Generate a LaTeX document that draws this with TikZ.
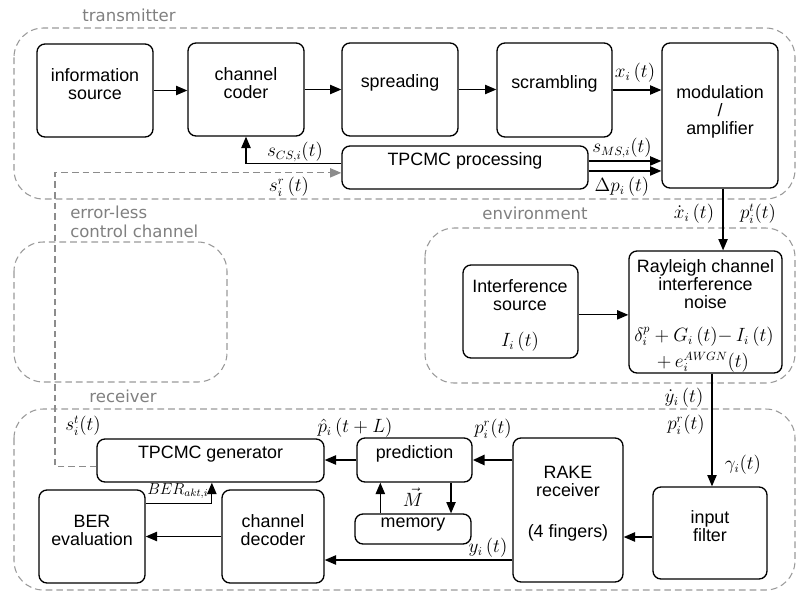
\documentclass[tikz,border=0pt]{standalone}
\usepackage{fontspec}
\setmainfont{Liberation Sans}
\newfontfamily\MyGrayFam{DejaVu Sans}
\usetikzlibrary{fit,arrows.meta}
\definecolor{regiongray}{HTML}{9A9A9A}
\definecolor{ctrlgray}{HTML}{8C8C8C}
\definecolor{labelgray}{HTML}{808080}
\newcommand\MyBoxFont{\fontsize{13.4}{13.6}\selectfont}
\newcommand\MyGrayFont{\MyGrayFam\fontsize{12.4}{14.5}\selectfont}
\newcommand\MyMathFont{\fontsize{13.5}{16}\selectfont}
\newcommand\MySmallMathFont{\fontsize{11.5}{14}\selectfont}
\begin{document}
\begin{tikzpicture}[x=0.75pt,y=-0.75pt,
  blk/.style={draw, rounded corners=6pt, line width=1pt, inner sep=0pt, align=center, font=\MyBoxFont},
  arr/.style={line width=0.95pt, -{Triangle[length=8.5pt,width=7pt]}},
  region/.style={draw=regiongray, dash pattern=on 5pt off 3pt, line width=0.8pt, rounded corners=22pt},
  ctrl/.style={draw=ctrlgray, dash pattern=on 5pt off 3pt, line width=0.9pt, -{Triangle[length=8.5pt,width=7pt]}},
  glabel/.style={text=labelgray, font=\MyGrayFont, inner sep=0pt},
  mlab/.style={font=\MyMathFont, inner sep=0pt},
  btxt/.style={font=\MyBoxFont, align=center, inner sep=0pt}]
\useasboundingbox (0,0) rectangle (796,594);

% regions
\draw[region] (14,28) rectangle (795,199);
\draw[region] (425,228) rectangle (795,383);
\draw[region] (14,242) rectangle (227,382);
\draw[region] (14,409) rectangle (795,590);
\node[glabel] (ltx) at (129,15) {transmitter};
\node[glabel] (lenv) at (535,213) {environment};
\node[glabel, anchor=west, align=left] (lerr) at (70,222) {error-less\\control channel};
\node[glabel] (lrx) at (123,396) {receiver};

% transmitter boxes
\node[blk, fit={(37,44) (153,137)}] (src) {information\\source};
\node[blk, fit={(188,43) (304,136)}] (coder) {channel\\coder};
\node[blk, fit={(342,43) (458,136)}] (spread) {spreading};
\node[blk, fit={(497,43) (612,137)}] (scram) {scrambling};
\node[blk, fit={(662,43) (778,188)}] (mod) {};
\node[btxt] (modt) at (720,112) {modulation\\/\\amplifier};
\node[blk, fit={(342,146) (588,189)}] (proc) {TPCMC processing};

% environment boxes
\node[blk, fit={(463,265) (578,358)}] (intsrc) {};
\node[btxt] (intt) at (520,295) {Interference\\source};
\node[mlab] (intI) at (520,342) {$I_i\,(t)$};
\node[blk, fit={(629,251) (782,373)}] (ray) {};
\node[btxt] (rayt) at (705.5,284) {Rayleigh channel\\interference\\noise};
\node[mlab] (rayf1) at (704,337) {$\delta_i^p + G_i\,(t){-}\,I_i\,(t)$};
\node[mlab] (rayf2) at (703,362) {$+\,e_i^{AWGN}(t)$};

% receiver boxes
\node[blk, fit={(653,487) (767,579)}] (filter) {input\\filter};
\node[blk, fit={(513,438) (623,582)}] (rake) {RAKE\\receiver\\[17.5pt](4 fingers)};
\node[blk, fit={(357,438) (472,482)}] (pred) {prediction};
\node[blk, fit={(355,514) (471,544)}] (mem) {memory};
\node[blk, fit={(97,439) (324,482)}] (gen) {TPCMC generator};
\node[blk, fit={(39,490) (145,583)}] (ber) {BER\\evaluation};
\node[blk, fit={(222,490) (324,583)}] (dec) {channel\\decoder};

% transmitter connectors
\draw[arr] (src.east) -- (src.east -| coder.west);
\draw[arr] (coder.east) -- (coder.east -| spread.west);
\draw[arr] (spread.east) -- (spread.east -| scram.west);
\draw[arr] (scram.east) -- (scram.east -| mod.west);
\draw[arr] ([yshift=3pt]proc.west) -| (coder.south);
\draw[arr] ([yshift=4.9pt]proc.east) -- ([yshift=4.9pt]proc.east -| mod.west);
\draw[arr] ([yshift=-2.6pt]proc.east) -- ([yshift=-2.6pt]proc.east -| mod.west);

% control channel
\coordinate (cc) at (55,300);
\draw[ctrl] ([yshift=-4.5pt]gen.west) -| (cc) |- ([yshift=-4pt]proc.west);

% environment connectors
\draw[arr] ([xshift=2.3pt]mod.south) -- ([xshift=2.3pt]mod.south |- ray.north);
\draw[arr] ([yshift=-2.5pt]intsrc.east) -- ([yshift=-2.5pt]intsrc.east -| ray.west);
\draw[arr] ([xshift=1.5pt]ray.south -| filter.north) -- ([xshift=1.5pt]filter.north);

% receiver connectors
\draw[arr] ([yshift=-3pt]filter.west) -- ([yshift=-3pt]filter.west -| rake.east);
\draw[line width=2.2pt, -{Triangle[length=9pt,width=7.5pt]}] (pred.east -| rake.west) -- (pred.east);
\draw[arr] ([xshift=27.4pt]pred.south) -- ([xshift=27.4pt]pred.south |- mem.north);
\draw[arr] ([xshift=-24.5pt]mem.north) -- ([xshift=-24.5pt]mem.north |- pred.south);
\draw[arr] (pred.west) -- (pred.west -| gen.east);
\draw[arr] ([yshift=-37.5pt]rake.west) -- ([yshift=-37.5pt]rake.west -| dec.east);
\draw[arr] (dec.west) -- (dec.west -| ber.east);
\draw[arr] ([yshift=25pt]ber.east) -| ([xshift=1pt]gen.south);

% math labels
\node[mlab] (lx) at (635,73) {$x_i\,(t)$};
\node[mlab] (lscs) at (295,152) {$s_{CS,i}(t)$};
\node[mlab] (lsr) at (289,187) {$s_i^{r}\,(t)$};
\node[mlab] (lsms) at (622,148) {$s_{MS,i}(t)$};
\node[mlab] (ldp) at (622,187) {$\Delta p_i\,(t)$};
\node[mlab] (lxd) at (694,214) {$\dot{x}_i\,(t)$};
\node[mlab] (lpt) at (758,214) {$p_i^t(t)$};
\node[mlab] (lyd) at (684,398) {$\dot{y}_i\,(t)$};
\node[mlab] (lpr1) at (686,425) {$p_i^r(t)$};
\node[mlab] (lgam) at (743,465) {$\gamma_i(t)$};
\node[mlab] (lpr2) at (493,429) {$p_i^r(t)$};
\node[mlab] (lph) at (355,428) {$\hat{p}_i\,(t+L)$};
\node[mlab] (lst) at (83,426) {$s_i^t(t)$};
\node[mlab] (lM) at (413,497) {$\vec{M}$};
\node[font=\MySmallMathFont, inner sep=0pt, anchor=west] (lber) at (147,491) {$BER_{akt,i}$};
\node[mlab] (ly) at (488,548) {$y_i\,(t)$};
\end{tikzpicture}
\end{document}
